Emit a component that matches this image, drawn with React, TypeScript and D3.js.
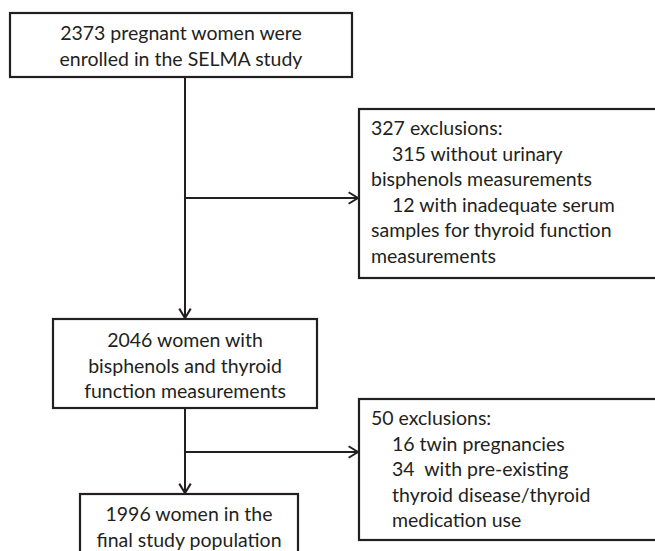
import React from 'react';
import * as d3 from 'd3';

// flow boxes (text only), top to bottom
const enrolledLines = ['2373 pregnant women were', 'enrolled in the SELMA study'];
const analysedLines = ['2046 women with', 'bisphenols and thyroid', 'function measurements'];
const finalLines = ['1996 women in the', 'final study population'];

// exclusion boxes: [text, indented?]
const exclusion1: [string, boolean][] = [
  ['327 exclusions:', false],
  ['315 without urinary', true],
  ['bisphenols measurements', false],
  ['12 with inadequate serum', true],
  ['samples for thyroid function', false],
  ['measurements', false],
];
const exclusion2: [string, boolean][] = [
  ['50 exclusions:', false],
  ['16 twin pregnancies', true],
  ['34  with pre-existing', true],
  ['thyroid disease/thyroid', true],
  ['medication use', true],
];

const W = 655;
const H = 551;
const ink = '#231f20';
const font = 'Lato, "Open Sans", sans-serif';
const fs = 19.5;
const lh = 25.5;

const line = d3.line<[number, number]>();

function Arrow({ from, to }: { from: [number, number]; to: [number, number] }) {
  const a = Math.atan2(to[1] - from[1], to[0] - from[0]);
  const len = 11;
  const spread = 0.55;
  const p1: [number, number] = [to[0] - len * Math.cos(a - spread), to[1] - len * Math.sin(a - spread)];
  const p2: [number, number] = [to[0] - len * Math.cos(a + spread), to[1] - len * Math.sin(a + spread)];
  return (
    <g fill="none" stroke={ink} strokeWidth={2}>
      <path d={line([from, to]) ?? ''} />
      <path d={line([p1, to, p2]) ?? ''} strokeLinejoin="miter" />
    </g>
  );
}

function Box({ x, y, w, h }: { x: number; y: number; w: number; h: number }) {
  return <rect x={x} y={y} width={w} height={h} fill="#fff" stroke={ink} strokeWidth={2.2} />;
}

function CenterText({ lines, cx, y0 }: { lines: string[]; cx: number; y0: number }) {
  return (
    <text fontFamily={font} fontSize={fs} fill={ink} textAnchor="middle">
      {lines.map((t, i) => (
        <tspan key={i} x={cx} y={y0 + i * lh}>{t}</tspan>
      ))}
    </text>
  );
}

function LeftText({ lines, x, y0 }: { lines: [string, boolean][]; x: number; y0: number }) {
  return (
    <text fontFamily={font} fontSize={fs} fill={ink} style={{ whiteSpace: 'pre' }}>
      {lines.map(([t, ind], i) => (
        <tspan key={i} x={ind ? x + 21 : x} y={y0 + i * lh}>{t}</tspan>
      ))}
    </text>
  );
}

export default function App() {
  const spineX = 185;
  return (
    <svg width={W} height={H} style={{ position: 'fixed', left: 0, top: 0, background: '#fff' }}>
      <rect width={W} height={H} fill="#fff" />

      <Arrow from={[spineX, 77]} to={[spineX, 318]} />
      <Arrow from={[spineX, 198]} to={[358, 198]} />
      <Arrow from={[spineX, 408]} to={[spineX, 493]} />
      <Arrow from={[spineX, 452]} to={[358, 452]} />

      <Box x={10} y={13} w={342} h={64} />
      <CenterText lines={enrolledLines} cx={181} y0={40} />

      <Box x={359} y={109} w={310} h={169} />
      <LeftText lines={exclusion1} x={371} y0={135} />

      <Box x={53} y={319} w={264} h={89} />
      <CenterText lines={analysedLines} cx={185} y0={347} />

      <Box x={359} y={399} w={310} h={141} />
      <LeftText lines={exclusion2} x={371} y0={425} />

      <Box x={80} y={494} w={218} h={80} />
      <CenterText lines={finalLines} cx={189} y0={521} />
    </svg>
  );
}
